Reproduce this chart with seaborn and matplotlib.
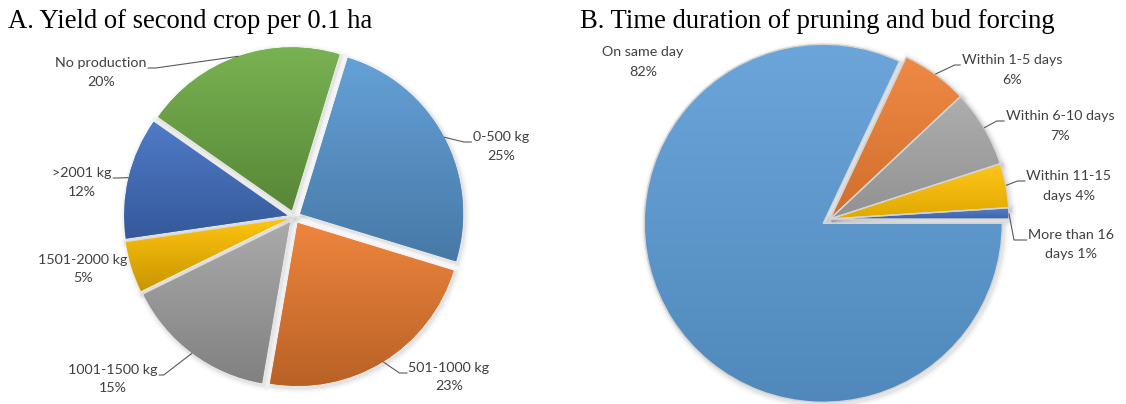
import numpy as np
import matplotlib
matplotlib.use("Agg")
import matplotlib.pyplot as plt
import matplotlib.colors as mcolors
from matplotlib.patches import Wedge
import seaborn as sns

# Panel A: yield of the second crop per 0.1 ha (share of growers, %)
yield_classes = ["0-500 kg", "501-1000 kg", "1001-1500 kg", "1501-2000 kg", ">2001 kg", "No production"]
yield_share = [25, 23, 15, 5, 12, 20]

# Panel B: time between pruning and bud forcing (share of growers, %)
interval_classes = ["On same day", "Within 1-5 days", "Within 6-10 days",
                    "Within 11-15 days", "More than 16 days"]
interval_share = [82, 6, 7, 4, 1]

W, H = 1126, 404
sns.set_theme(style="white")
plt.rcParams["font.family"] = ["Lato", "DejaVu Sans"]

palette = sns.color_palette(["#5B9BD5", "#ED7D31", "#A5A5A5", "#FFC000", "#4472C4", "#70AD47"])
LABEL_COLOR = "#404040"
LINE_COLOR = "#595959"
LABEL_SIZE = 10.3

fig = plt.figure(figsize=(W / 100, H / 100), dpi=100)
ax = fig.add_axes([0, 0, 1, 1])


def py(y):
    """Pixel row (top-down) to axis y (bottom-up)."""
    return H - y


def frame():
    ax.set_xlim(0, W)
    ax.set_ylim(0, H)
    ax.set_aspect("auto")
    ax.axis("off")


def shade(wedge, base, lighten=0.10, darken=0.20):
    c = np.array(mcolors.to_rgb(base))
    top = c + (1 - c) * lighten
    bot = c * (1 - darken)
    t = np.linspace(0, 1, 256)[:, None, None]
    img = top * (1 - t) + bot * t
    ext = wedge.get_path().get_extents()
    im = ax.imshow(img, extent=(ext.x0, ext.x1, ext.y0, ext.y1), origin="upper",
                   aspect="auto", interpolation="bilinear", zorder=3)
    im.set_clip_path(wedge)


def drop_shadow(wedge, dx=1.5, dy=-2.0):
    for lw, a in [(8, 0.02), (5, 0.035), (2.5, 0.05)]:
        ax.add_patch(Wedge((wedge.center[0] + dx, wedge.center[1] + dy), wedge.r,
                           wedge.theta1, wedge.theta2, facecolor="none",
                           edgecolor=(0, 0, 0, a), lw=lw, zorder=1))


def label_wedges(wedges, texts, layout, gap):
    frame()
    renderer = fig.canvas.get_renderer()
    for w, (line1, line2), (cx, cy, side, elbow) in zip(wedges, texts, layout):
        t1 = ax.text(cx, py(cy), line1, ha="center", va="center",
                     fontsize=LABEL_SIZE, color=LABEL_COLOR, zorder=6)
        ax.text(cx, py(cy + gap), line2, ha="center", va="center",
                fontsize=LABEL_SIZE, color=LABEL_COLOR, zorder=6)
        if side is None:
            continue
        bb = t1.get_window_extent(renderer).transformed(ax.transData.inverted())
        ay = py(cy + 5)
        mid = np.deg2rad(0.5 * (w.theta1 + w.theta2))
        ax_, ay_ = w.center[0] + w.r * np.cos(mid), w.center[1] + w.r * np.sin(mid)
        if side == "right":
            x0 = bb.x1 + 1
            xs = [x0, x0 + elbow, ax_]
        else:
            x0 = bb.x0 - 1
            xs = [x0, x0 - elbow, ax_]
        ax.plot(xs, [ay, ay, ay_], color=LINE_COLOR, lw=0.8, zorder=5,
                solid_capstyle="butt", solid_joinstyle="miter")


# ---- Panel A: exploded pie ----
colors_a = [palette[i] for i in range(6)]
wedges_a, _ = ax.pie(yield_share, colors=colors_a, startangle=73, counterclock=False,
                     radius=163, center=(294, py(217)), explode=[7] * len(yield_share),
                     wedgeprops=dict(linewidth=0, zorder=2), normalize=True)
for w, c in zip(wedges_a, colors_a):
    drop_shadow(w)
    shade(w, c, lighten=0.06, darken=0.22)

texts_a = [(n, f"{v}%") for n, v in zip(yield_classes, yield_share)]
layout_a = [
    (501, 137, "left", 8),
    (449, 368, "left", 8),
    (113, 370, "right", 5),
    (83, 260, None, 0),
    (82, 173, "right", 6),
    (101, 63, "right", 8),
]
label_wedges(wedges_a, texts_a, layout_a, gap=18.5)

# ---- Panel B: pie with the dominant slice pulled out ----
colors_b = [palette[i] for i in range(5)]
wedges_b, _ = ax.pie(interval_share, colors=colors_b, startangle=0, counterclock=False,
                     radius=179, center=(830, py(219)), explode=[8, 0, 0, 0, 0],
                     wedgeprops=dict(linewidth=0, zorder=2), normalize=True)
for w, c in zip(wedges_b, colors_b):
    drop_shadow(w)
    shade(w, c, lighten=0.10, darken=0.12)
    ax.add_patch(Wedge(w.center, w.r, w.theta1, w.theta2, facecolor="none",
                       edgecolor="#d4d4d4", lw=1.0, zorder=4))

wrap_b = [False, False, False, True, True]
texts_b = []
for n, v, wrap in zip(interval_classes, interval_share, wrap_b):
    if wrap:
        head, tail = n.rsplit(" ", 1)
        texts_b.append((head, f"{tail} {v}%"))
    else:
        texts_b.append((n, f"{v}%"))
layout_b = [
    (643, 52, None, 0),
    (1012, 60, "left", 6),
    (1060, 116, "left", 8),
    (1069, 176, "left", 8),
    (1071, 235, "left", 13),
]
label_wedges(wedges_b, texts_b, layout_b, gap=19.5)

# ---- Panel titles ----
title_kw = dict(fontsize=19.2, color="black", family=["Liberation Serif", "DejaVu Serif"],
                ha="left", va="baseline", zorder=6)
ax.text(8, py(28), "A. Yield of second crop per 0.1 ha", **title_kw)
ax.text(580, py(28), "B. Time duration of pruning and bud forcing", **title_kw)

frame()
fig.savefig("out.png", dpi=100, facecolor="white")
